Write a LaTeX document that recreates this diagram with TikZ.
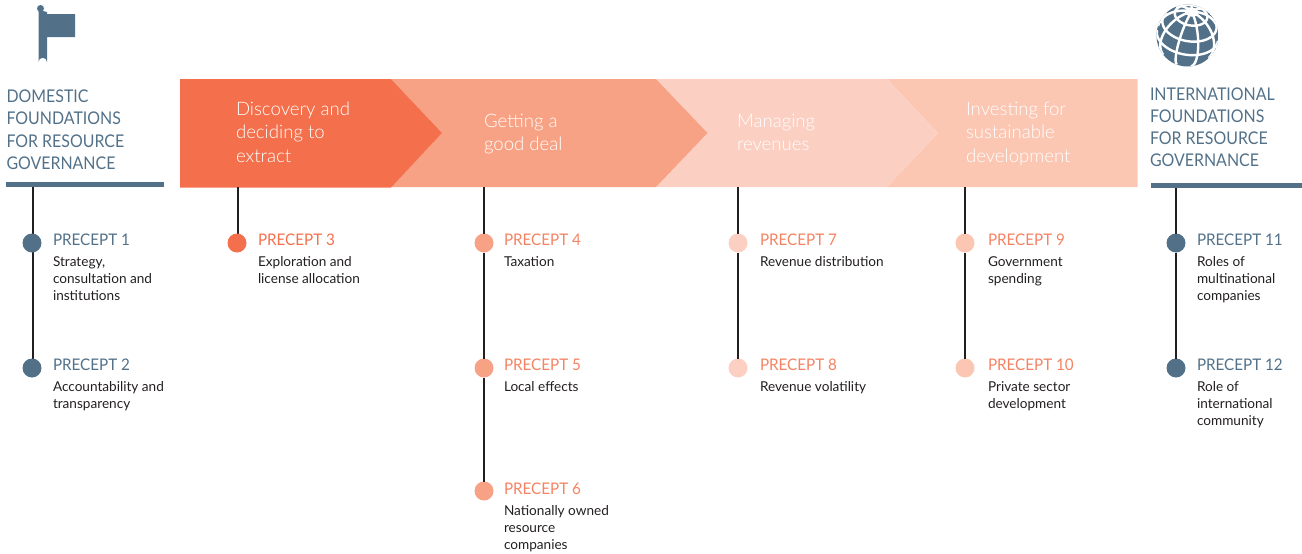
\documentclass[tikz,border=0pt]{standalone}
\usepackage{fontspec}
\setmainfont{Lato Light}
\newfontfamily\lreg{Lato}
\newfontfamily\lfound{Lato}[FakeStretch=0.91]
\newfontfamily\lprec{Lato}[FakeStretch=0.95]
\definecolor{cA}{HTML}{F4704D}
\definecolor{cB}{HTML}{F7A285}
\definecolor{cC}{HTML}{FBCFC2}
\definecolor{cD}{HTML}{FBC7B3}
\definecolor{cP}{HTML}{F58262}
\definecolor{blu}{HTML}{527189}
\definecolor{ink}{HTML}{231F20}
\newcommand{\pxfont}[1]{\fontsize{#1pt}{#1pt}\selectfont}
\tikzset{
  x=1pt,y=-1pt,
  head/.style={anchor=base west,inner sep=0pt,outer sep=0pt,text=white,font=\pxfont{18.6},align=left},
  found/.style={anchor=base west,inner sep=0pt,outer sep=0pt,text=blu,font=\lfound\pxfont{17.5}},
  prec/.style={anchor=base west,inner sep=0pt,outer sep=0pt,font=\lprec\pxfont{16}},
  desc/.style={anchor=base west,inner sep=0pt,outer sep=0pt,text=ink,font=\lreg\pxfont{13.6}},
  dot/.style={circle,inner sep=0pt,outer sep=0pt,minimum size=19pt,fill=#1},
  stem/.style={draw=ink,line width=2.4pt},
  rule/.style={fill=blu},
  grid/.style={draw=white,line width=2.4pt}
}
\begin{document}
\begin{tikzpicture}
\useasboundingbox (0,0) rectangle (1302,554);
% band
\fill[cD] (887,79) -- (1137.5,79) -- (1137.5,187) -- (887,187) -- (938,133) -- cycle;
\fill[cC] (656,79) -- (887,79) -- (938,133) -- (887,187) -- (656,187) -- (707.5,133) -- cycle;
\fill[cB] (391,79) -- (656,79) -- (707.5,133) -- (656,187) -- (391,187) -- (442,133) -- cycle;
\fill[cA] (180,79) -- (391,79) -- (442,133) -- (391,187.5) -- (180,187.5) -- cycle;
% rules
\fill[rule] (6,182) rectangle (164,187);
\fill[rule] (1151,183) rectangle (1302,188);
% flag
\fill[blu] (38.5,10) -- (47,12) -- (47,14) -- (75,14) -- (75,37) -- (47,37) -- (47,62) arc[start angle=0,end angle=-180,radius=4.25] -- cycle;
\fill[blu] (40.5,8.5) circle[radius=3.5];
% globe
\begin{scope}[shift={(1187.5,35.5)}]
  \clip (0,0) circle[radius=31];
  \fill[blu] (0,0) circle[radius=31];
  \foreach \l in {25,65,...,345}{
    \pgfmathsetmacro{\pz}{atan(-1.261*sin(\l))}
    \draw[grid] plot[domain=\pz:90,samples=24,variable=\f]
      ({31*(cos(\f)*(cos(\l)*0.985-sin(\l)*0.107)+sin(\f)*0.135)},
       {31*(cos(\f)*(cos(\l)*0.173+sin(\l)*0.611)-sin(\f)*0.77)});
  }
  \foreach \f/\a/\b in {0/0/180,28/-25/205,58/0/360,80/0/360}{
    \draw[grid] plot[domain=\a:\b,samples=60,variable=\l]
      ({31*(cos(\f)*(cos(\l)*0.985-sin(\l)*0.107)+sin(\f)*0.135)},
       {31*(cos(\f)*(cos(\l)*0.173+sin(\l)*0.611)-sin(\f)*0.77)});
  }
\end{scope}
% anchors
\coordinate (t1) at (33,187);
\coordinate (t2) at (238,187);
\coordinate (t3) at (484,187);
\coordinate (t4) at (738,187);
\coordinate (t5) at (965,187);
\coordinate (t6) at (1176,188);
% stems
\coordinate (a1) at (33,243);
\coordinate (a2) at (33,368);
\coordinate (a3) at (238,243);
\draw[stem] (t1) -- (a1) -- (a2);
\draw[stem] (t2) -- (a3);
% dots
\node[dot=blu] (p1) at (32,243) {};
\node[dot=blu] (p2) at (32,368) {};
\node[dot=cA] (p3) at (237,243) {};
\node[dot=cB] (p4) at (484,243) {};
\node[dot=cB] (p5) at (484,368) {};
\node[dot=cB] (p6) at (484,491) {};
\node[dot=cC] (p7) at (738,243) {};
\node[dot=cC] (p8) at (738,368) {};
\node[dot=cD] (p9) at (965,243) {};
\node[dot=cD] (p10) at (965,368) {};
\node[dot=blu] (p11) at (1176,243) {};
\node[dot=blu] (p12) at (1176,368) {};
\draw[stem] (t3) -- (p4) (p4) -- (p5) (p5) -- (p6);
\draw[stem] (t4) -- (p7) (p7) -- (p8);
\draw[stem] (t5) -- (p9) (p9) -- (p10);
\draw[stem] (t6) -- (p11) (p11) -- (p12);
% headings
\node[head] (h1a) at (236,115.5) {Discovery and};
\node[head] (h1b) at (236,138.5) {deciding to};
\node[head] (h1c) at (236,162) {extract};
\node[head] (h2a) at (484,127) {Getting a};
\node[head] (h2b) at (484,150) {good deal};
\node[head] (h3a) at (737,127) {Managing};
\node[head] (h3b) at (737,150) {revenues};
\node[head] (h4a) at (966,115) {Investing for};
\node[head] (h4b) at (966,138.5) {sustainable};
\node[head] (h4c) at (966,162) {development};
% foundations
\node[found] (d1) at (6.5,102) {DOMESTIC};
\node[found] (d2) at (6.5,124) {FOUNDATIONS};
\node[found] (d3) at (6.5,147) {FOR RESOURCE};
\node[found] (d4) at (6.5,169) {GOVERNANCE};
\node[found] (i1) at (1150,100) {INTERNATIONAL};
\node[found] (i2) at (1150,122) {FOUNDATIONS};
\node[found] (i3) at (1150,144) {FOR RESOURCE};
\node[found] (i4) at (1150,166) {GOVERNANCE};
% precepts
\node[prec,text=blu] (l1) at (53,245) {PRECEPT 1};
\node[desc] (l1a) at (53,266) {Strategy,};
\node[desc] (l1b) at (53,283) {consultation and};
\node[desc] (l1c) at (53,300) {institutions};
\node[prec,text=blu] (l2) at (53,370) {PRECEPT 2};
\node[desc] (l2a) at (53,391) {Accountability and};
\node[desc] (l2b) at (53,408) {transparency};
\node[prec,text=cA] (l3) at (258,245) {PRECEPT 3};
\node[desc] (l3a) at (258,266) {Exploration and};
\node[desc] (l3b) at (258,283) {license allocation};
\node[prec,text=cP] (l4) at (504,245) {PRECEPT 4};
\node[desc] (l4a) at (504,266) {Taxation};
\node[prec,text=cP] (l5) at (504,370) {PRECEPT 5};
\node[desc] (l5a) at (504,391) {Local effects};
\node[prec,text=cP] (l6) at (504,494) {PRECEPT 6};
\node[desc] (l6a) at (504,515) {Nationally owned};
\node[desc] (l6b) at (504,532) {resource};
\node[desc] (l6c) at (504,549) {companies};
\node[prec,text=cP] (l7) at (760,245) {PRECEPT 7};
\node[desc] (l7a) at (760,266) {Revenue distribution};
\node[prec,text=cP] (l8) at (760,370) {PRECEPT 8};
\node[desc] (l8a) at (760,391) {Revenue volatility};
\node[prec,text=cP] (l9) at (988,245) {PRECEPT 9};
\node[desc] (l9a) at (988,266) {Government};
\node[desc] (l9b) at (988,283) {spending};
\node[prec,text=cP] (l10) at (988,370) {PRECEPT 10};
\node[desc] (l10a) at (988,391) {Private sector};
\node[desc] (l10b) at (988,408) {development};
\node[prec,text=blu] (l11) at (1197,245) {PRECEPT 11};
\node[desc] (l11a) at (1197,266) {Roles of};
\node[desc] (l11b) at (1197,283) {multinational};
\node[desc] (l11c) at (1197,300) {companies};
\node[prec,text=blu] (l12) at (1197,370) {PRECEPT 12};
\node[desc] (l12a) at (1197,391) {Role of};
\node[desc] (l12b) at (1197,408) {international};
\node[desc] (l12c) at (1197,425) {community};
\end{tikzpicture}
\end{document}
